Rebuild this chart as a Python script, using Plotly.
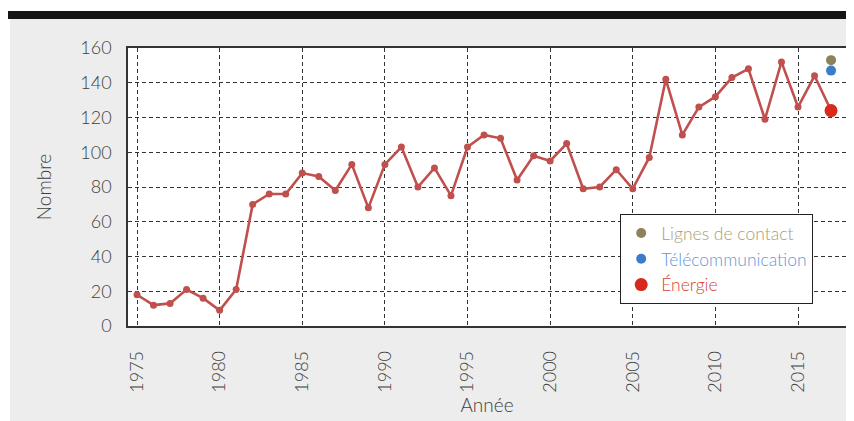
import plotly.graph_objects as go

years = list(range(1975, 2018))
nombre = [18, 12, 13, 21, 16, 9, 21, 70, 76, 76,
          88, 86, 78, 93, 68, 93, 103, 80, 91, 75,
          103, 110, 108, 84, 98, 95, 105, 79, 80, 90,
          79, 97, 142, 110, 126, 132, 143, 148, 119, 152,
          126, 144, 124]

cat_names = ["Lignes de contact", "Télécommunication", "Énergie"]
cat_years = [2017, 2017, 2017]
cat_values = [153, 147, 124]
cat_colors = ["#8c8359", "#3b7dc8", "#d8291b"]
cat_text_colors = ["#a89d76", "#5f97d6", "#d8402f"]
cat_sizes = [10, 10, 13]

xticks = [1975, 1980, 1985, 1990, 1995, 2000, 2005, 2010, 2015]
yticks = [0, 20, 40, 60, 80, 100, 120, 140, 160]

FONT = "Lato"
OFF = 8  # page body margin
W, H = 854 - 2 * OFF, 421 - OFF
L, R, T, B = 128 - OFF, 0, 48 - OFF, (421 - OFF) - 326 + OFF
PX_PER_YEAR = 16.525

fig = go.Figure()
fig.add_trace(go.Scatter(
    x=years, y=nombre, mode="lines+markers",
    line=dict(color="#c0504d", width=2.6),
    marker=dict(color="#c0504d", size=7),
    showlegend=False, hoverinfo="skip"))

for n, xv, yv, c, tc, s in zip(cat_names, cat_years, cat_values, cat_colors, cat_text_colors, cat_sizes):
    fig.add_trace(go.Scatter(
        x=[xv], y=[yv], mode="markers",
        marker=dict(color=c, size=s),
        name=f"<span style='color:{tc}'>{n}</span>"))

pw = W - L - R
ph = H - T - B
def px_x(p):  # p in reference page pixels
    return (p - OFF - L) / pw
def px_y(p):
    return (H - B - (p - OFF)) / ph

shapes = [
    dict(type="rect", xref="paper", yref="paper", x0=px_x(0), x1=px_x(860), y0=px_y(-5), y1=px_y(11),
         fillcolor="white", line=dict(width=0), layer="below"),
    dict(type="rect", xref="paper", yref="paper", x0=px_x(-5), x1=px_x(10), y0=px_y(430), y1=px_y(11),
         fillcolor="white", line=dict(width=0), layer="below"),
    dict(type="rect", xref="paper", yref="paper", x0=px_x(6), x1=px_x(860), y0=px_y(19), y1=px_y(11),
         fillcolor="#141614", line=dict(width=0), layer="below"),
]

fig.update_layout(
    width=W, height=H, autosize=False,
    margin=dict(l=L, r=R, t=T, b=B, pad=0),
    paper_bgcolor="#ededed", plot_bgcolor="white",
    font=dict(family=FONT, size=18, color="#3f3f3f", weight=300),
    shapes=shapes,
    legend=dict(x=px_x(620), y=px_y(214), xanchor="left", yanchor="top",
                bgcolor="white", bordercolor="#222", borderwidth=1.2,
                font=dict(family=FONT, size=17.5, weight=300),
                itemsizing="trace", tracegroupgap=0),
    xaxis=dict(range=[1975 - 9 / PX_PER_YEAR, 1975 + (846 - 137) / PX_PER_YEAR],
               tickvals=xticks, ticktext=[str(v) for v in xticks],
               tickangle=-90, ticks="outside", ticklen=16, tickcolor="rgba(0,0,0,0)",
               showgrid=True, gridcolor="#333", griddash="4px,3px", gridwidth=1,
               showline=True, linecolor="#333", linewidth=1.5, mirror=True,
               zeroline=False, fixedrange=True,
               title=dict(text="Année", standoff=6, font=dict(size=19))),
    yaxis=dict(range=[0, 160], tickvals=yticks,
               ticks="outside", ticklen=11, tickcolor="rgba(0,0,0,0)",
               showgrid=True, gridcolor="#333", griddash="4px,3px", gridwidth=1,
               showline=True, linecolor="#333", linewidth=1.5, mirror=False,
               zeroline=False, fixedrange=True,
               title=dict(text="Nombre", standoff=24, font=dict(size=19))),
)

fig.write_html("out.html")
